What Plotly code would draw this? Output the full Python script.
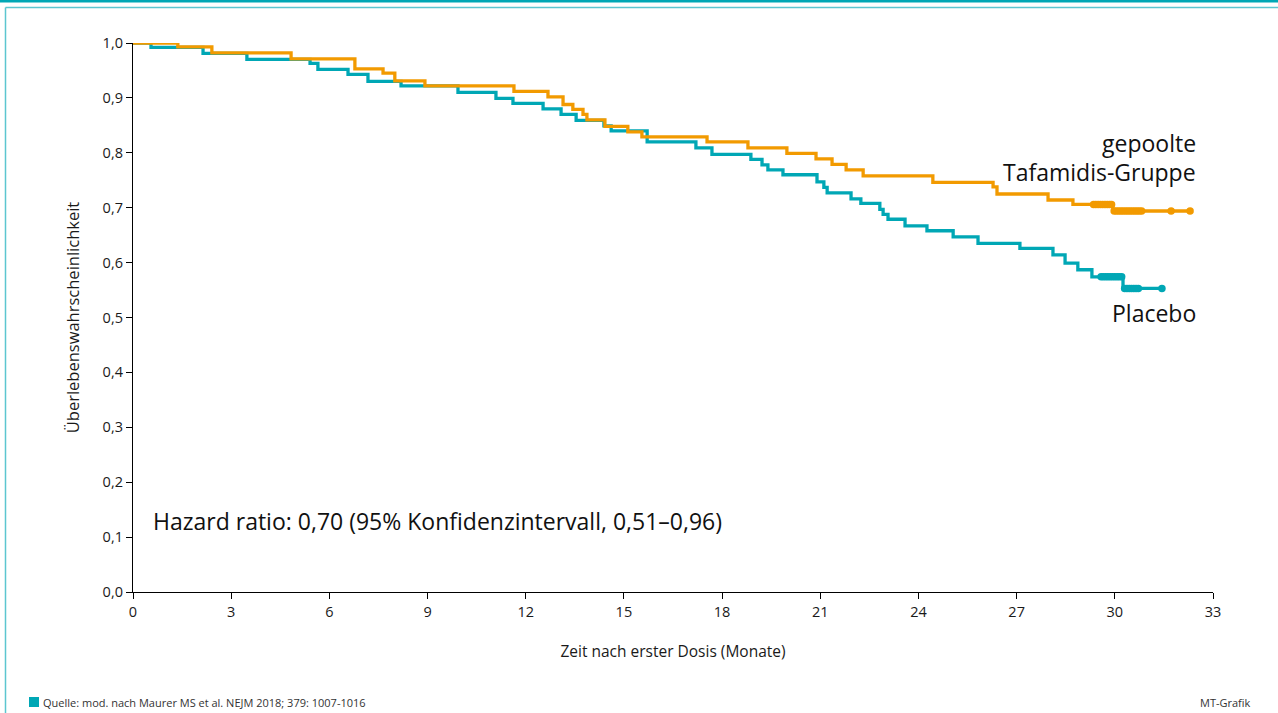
import plotly.graph_objects as go

# ---- Data ----
taf_time = [0, 1.37, 2.41, 4.83, 6.78, 7.64, 8.0, 8.92, 11.64, 12.68, 13.14, 13.44, 13.75, 13.87,
            14.42, 15.12, 15.55, 17.54, 18.79, 19.98, 20.87, 21.36, 21.79, 22.31, 24.44, 26.28,
            26.40, 27.96, 28.72, 29.94, 32.3]
taf_surv = [1.0, 0.993, 0.982, 0.971, 0.953, 0.945, 0.931, 0.922, 0.912, 0.902, 0.888, 0.879, 0.870,
            0.860, 0.848, 0.838, 0.829, 0.820, 0.809, 0.799, 0.789, 0.779, 0.769, 0.758, 0.746,
            0.738, 0.725, 0.714, 0.706, 0.694, 0.694]

pla_time = [0, 0.55, 2.14, 3.48, 5.41, 5.65, 6.57, 7.18, 8.19, 9.93, 11.09, 11.61, 12.53, 13.08,
            13.54, 14.39, 14.61, 15.71, 17.20, 17.69, 18.88, 19.22, 19.40, 19.86, 20.90, 21.11,
            21.21, 21.94, 22.24, 22.82, 22.92, 23.07, 23.59, 24.26, 25.06, 25.82, 27.10, 28.11,
            28.48, 28.87, 29.30, 30.25, 31.44]
pla_surv = [1.0, 0.992, 0.981, 0.970, 0.963, 0.952, 0.943, 0.930, 0.922, 0.910, 0.899, 0.890, 0.880,
            0.870, 0.859, 0.849, 0.840, 0.820, 0.809, 0.797, 0.788, 0.778, 0.769, 0.760, 0.747,
            0.737, 0.727, 0.716, 0.708, 0.697, 0.688, 0.679, 0.667, 0.658, 0.647, 0.635, 0.626,
            0.614, 0.599, 0.587, 0.574, 0.553, 0.553]

# censored observations (ticks)
taf_cens_time = [29.35, 29.42, 29.49, 29.56, 29.63, 29.70, 29.77, 29.84, 29.90,
                 29.98, 30.05, 30.12, 30.19, 30.26, 30.33, 30.40, 30.47, 30.54, 30.61, 30.68, 30.75, 30.82,
                 31.72, 32.3]
taf_cens_surv = [0.706] * 9 + [0.694] * 15
pla_cens_time = [29.58, 29.65, 29.72, 29.79, 29.86, 29.93, 30.00, 30.07, 30.14, 30.21,
                 30.30, 30.37, 30.44, 30.51, 30.58, 30.65, 30.72,
                 31.44]
pla_cens_surv = [0.574] * 10 + [0.553] * 8

x_ticks = list(range(0, 34, 3))
y_ticks = [i / 10 for i in range(0, 11)]

ORANGE = "#F29A00"
TEAL = "#00A7B5"
FONT = "Open Sans"

fig = go.Figure()
fig.add_trace(go.Scatter(x=pla_time, y=pla_surv, mode="lines", line=dict(color=TEAL, width=3.3, shape="hv"),
                         showlegend=False, hoverinfo="skip"))
fig.add_trace(go.Scatter(x=taf_time, y=taf_surv, mode="lines", line=dict(color=ORANGE, width=3.3, shape="hv"),
                         showlegend=False, hoverinfo="skip"))
fig.add_trace(go.Scatter(x=pla_cens_time, y=pla_cens_surv, mode="markers",
                         marker=dict(color=TEAL, size=7.5, line=dict(width=0)), showlegend=False, hoverinfo="skip"))
fig.add_trace(go.Scatter(x=taf_cens_time, y=taf_cens_surv, mode="markers",
                         marker=dict(color=ORANGE, size=7.5, line=dict(width=0)), showlegend=False, hoverinfo="skip"))

axis_common = dict(showline=True, linecolor="black", linewidth=1.3, ticks="outside", ticklen=6,
                   tickcolor="black", tickwidth=1.3, showgrid=False, zeroline=False,
                   tickfont=dict(family=FONT, size=14.5, color="#1a1a1a"))
fig.update_xaxes(range=[0, 33], tickvals=x_ticks, **axis_common,
                 title=dict(text="Zeit nach erster Dosis (Monate)", standoff=26,
                            font=dict(family=FONT, size=15.5, color="#1a1a1a")))
fig.update_yaxes(range=[0, 1], tickvals=y_ticks, tickformat=".1f", **axis_common,
                 title=dict(text="Überlebenswahrscheinlichkeit", standoff=18,
                            font=dict(family=FONT, size=16.5, color="#1a1a1a")))

for tr in fig.data:
    tr.cliponaxis = False

def px2x(p):
    return (p - 133) / 1080
def py2y(p):
    return (592 - p) / 549

annots = [
    dict(text="gepoolte", x=1198, y=143),
    dict(text="Tafamidis-Gruppe", x=1198, y=172),
    dict(text="Placebo", x=1198, y=313),
]
for a in annots:
    fig.add_annotation(text=a["text"], xref="paper", yref="paper",
                       x=px2x(a["x"]), y=py2y(a["y"]),
                       xanchor="right", yanchor="middle", showarrow=False,
                       font=dict(family=FONT, size=23, color="#111"))
fig.add_annotation(text="Hazard ratio: 0,70 (95% Konfidenzintervall, 0,51–0,96)", xref="paper", yref="paper",
                   x=px2x(151), y=py2y(521), xanchor="left", yanchor="middle",
                   showarrow=False, font=dict(family=FONT, size=23, color="#111"))
fig.add_annotation(text="Quelle: mod. nach Maurer MS et al. NEJM 2018; 379: 1007-1016",
                   xref="paper", yref="paper", x=px2x(41), y=py2y(702),
                   xanchor="left", yanchor="middle", showarrow=False,
                   font=dict(family=FONT, size=11, color="#333"))
fig.add_annotation(text="MT-Grafik", xref="paper", yref="paper", x=px2x(1253), y=py2y(702),
                   xanchor="right", yanchor="middle", showarrow=False,
                   font=dict(family=FONT, size=11, color="#333"))

shapes = [
    dict(type="rect", xref="paper", yref="paper", x0=px2x(0), x1=px2x(1278), y0=py2y(0), y1=py2y(2.5),
         fillcolor=TEAL, line=dict(width=0)),
    dict(type="line", xref="paper", yref="paper", x0=px2x(5.5), x1=px2x(1278), y0=py2y(7.5), y1=py2y(7.5),
         line=dict(color="#5CC6D0", width=1.5)),
    dict(type="line", xref="paper", yref="paper", x0=px2x(5.5), x1=px2x(5.5), y0=py2y(7.5), y1=py2y(713),
         line=dict(color="#5CC6D0", width=1.5)),
    dict(type="rect", xref="paper", yref="paper", x0=px2x(29), x1=px2x(39), y0=py2y(707), y1=py2y(697),
         fillcolor=TEAL, line=dict(width=0)),
]
fig.update_layout(shapes=shapes)

fig.update_layout(width=1278, height=713, autosize=False,
                  margin=dict(l=133, r=65, t=43, b=121),
                  paper_bgcolor="white", plot_bgcolor="white",
                  separators=",.", font=dict(family=FONT))

fig.write_html("out.html", config={"displayModeBar": False},
               post_script="document.body.style.margin='0';document.body.style.overflow='hidden';")
